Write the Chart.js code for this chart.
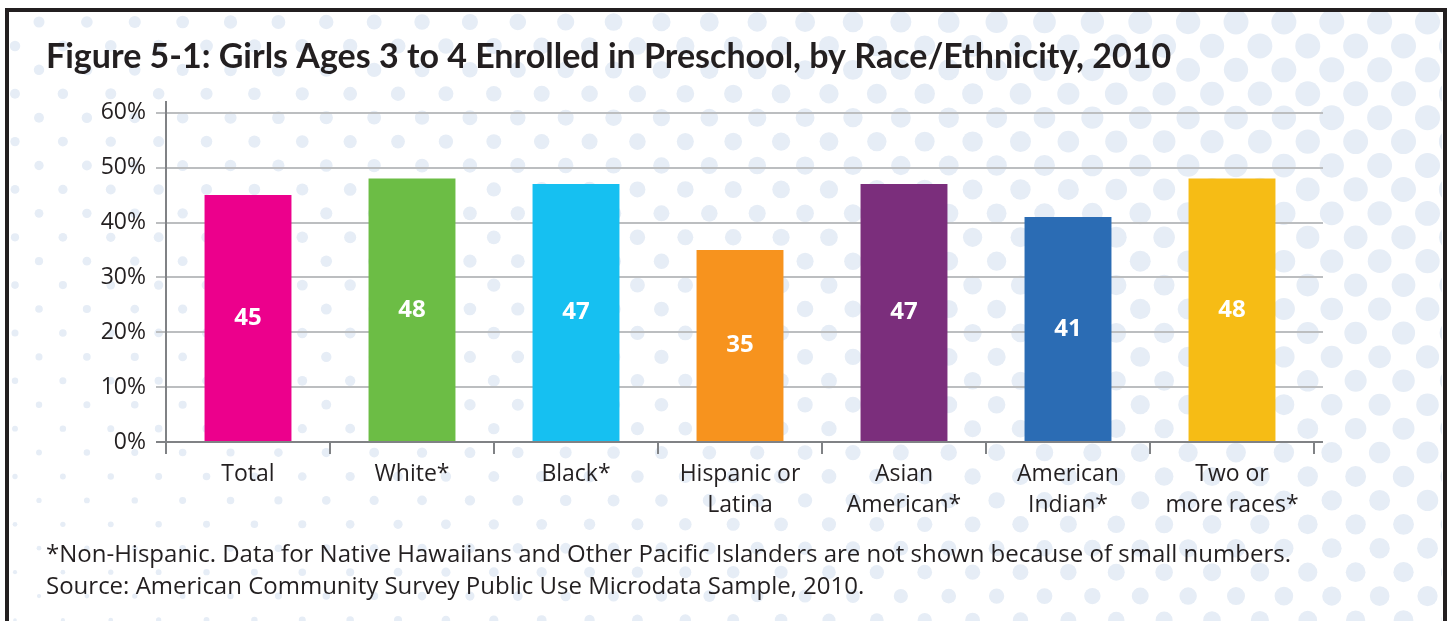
<!DOCTYPE html>
<html>
<head>
<meta charset="utf-8">
<title>Figure 5-1</title>
<script src="https://cdn.jsdelivr.net/npm/chart.js@4.4.0/dist/chart.umd.min.js"></script>
<style>
  html, body { margin: 0; padding: 0; background: #fff; overflow: hidden; }
  #wrap { position: relative; width: 1452px; height: 621px; }
  #frame {
    position: absolute; left: 5px; top: 8px; width: 1442px; height: 700px;
    box-sizing: border-box; border: 4.5px solid #231f20; pointer-events: none;
  }
</style>
</head>
<body>
<div id="wrap">
  <canvas id="grafico" width="1452" height="621"></canvas>
  <div id="frame"></div>
</div>
<script>
// data
var categorias = [
    'Total',
    'White*',
    'Black*',
    ['Hispanic or', 'Latina'],
    ['Asian', 'American*'],
    ['American', 'Indian*'],
    ['Two or', 'more races*']
];
var matriculadas = [45, 48, 47, 35, 47, 41, 48];
var yTicks = [0, 10, 20, 30, 40, 50, 60];

var titulo = 'Figure 5-1: Girls Ages 3 to 4 Enrolled in Preschool, by Race/Ethnicity, 2010';
var notas = [
    '*Non-Hispanic. Data for Native Hawaiians and Other Pacific Islanders are not shown because of small numbers.',
    'Source: American Community Survey Public Use Microdata Sample, 2010.'
];

var cores = ['#ec008c', '#6cbd45', '#16c0f1', '#f7931e', '#7b2e7c', '#2b6cb4', '#f6bc15'];
var texto = '#231f20';
var cinzaGrade = '#bcbec0';
var cinzaEixo = '#808285';

// polka dot background, dots grow towards the top right
var fundoBolinhas = {
    id: 'fundoBolinhas',
    beforeDraw: function (chart) {
        var ctx = chart.ctx;
        ctx.save();
        ctx.fillStyle = '#fff';
        ctx.fillRect(0, 0, chart.width, chart.height);
        ctx.beginPath();
        ctx.rect(10, 12, 1432, chart.height);
        ctx.clip();
        ctx.fillStyle = '#e6edf6';
        for (var j = -1; j < 28; j++) {
            var y = 22 + j * 23.92;
            var x0 = (Math.abs(j) % 2 === 0) ? 39 : 15;
            for (var x = x0 - 47.88; x < 1470; x += 47.88) {
                var r = 5.3 + 0.0058 * x - 0.006 * (y - 22);
                r = Math.max(1.2, Math.min(12.5, r));
                ctx.beginPath();
                ctx.arc(x, y, r, 0, Math.PI * 2);
                ctx.fill();
            }
        }
        ctx.restore();
    }
};

// white numbers in the middle of each bar
var valoresBarras = {
    id: 'valoresBarras',
    afterDatasetsDraw: function (chart) {
        var ctx = chart.ctx;
        var meta = chart.getDatasetMeta(0);
        ctx.save();
        ctx.fillStyle = '#fff';
        ctx.font = 'bold 24px "Open Sans"';
        ctx.textAlign = 'center';
        ctx.textBaseline = 'middle';
        meta.data.forEach(function (bar, i) {
            ctx.fillText(String(matriculadas[i]), bar.x, (bar.y + bar.base) / 2);
        });
        ctx.restore();
    }
};

function corGrade(c) {
    return c.tick && c.tick.value === 0 ? cinzaEixo : cinzaGrade;
}

function soTicksDaLista(scale) {
    scale.ticks = yTicks.map(function (v) { return { value: v }; });
}

geraGrafico(document.getElementById('grafico'));

function geraGrafico(ctx) {
    new Chart(ctx, {
        type: 'bar',
        data: {
            labels: categorias,
            datasets: [{
                label: 'Enrolled in preschool (%)',
                data: matriculadas,
                backgroundColor: cores,
                borderWidth: 0,
                barPercentage: 0.53,
                categoryPercentage: 1
            }]
        },
        plugins: [fundoBolinhas, valoresBarras],
        options: {
            responsive: false,
            animation: false,
            devicePixelRatio: 1,
            layout: { padding: { left: 46, right: 129, top: 0, bottom: 0 } },
            plugins: {
                legend: { display: false },
                tooltip: { enabled: false },
                title: {
                    display: true,
                    text: titulo,
                    align: 'start',
                    color: texto,
                    font: { family: 'Lato', size: 34, weight: 'bold', lineHeight: 1.2 },
                    padding: { top: 37, bottom: 24 }
                },
                subtitle: {
                    display: true,
                    position: 'bottom',
                    text: notas,
                    align: 'start',
                    color: texto,
                    font: { family: 'Open Sans', size: 24, weight: 'normal', lineHeight: 1.333 },
                    padding: { top: 19, bottom: 18 }
                }
            },
            scales: {
                x: {
                    afterFit: function (s) { s.height = 78; },
                    border: { display: false },
                    grid: {
                        offset: true,
                        drawOnChartArea: false,
                        drawTicks: true,
                        tickLength: 12,
                        color: cinzaEixo,
                        lineWidth: 2
                    },
                    ticks: {
                        color: texto,
                        padding: 5,
                        maxRotation: 0,
                        autoSkip: false,
                        font: { family: 'Open Sans', size: 23, lineHeight: 1.348 }
                    }
                },
                y: {
                    min: 0,
                    max: 62,
                    afterBuildTicks: soTicksDaLista,
                    afterFit: function (s) { s.width = 120; },
                    border: { display: true, color: cinzaEixo, width: 2 },
                    grid: { color: corGrade, lineWidth: 2, tickLength: 10 },
                    ticks: {
                        color: texto,
                        padding: 10,
                        font: { family: 'Open Sans', size: 23 },
                        callback: function (v) { return v + '%'; }
                    }
                },
                y2: {
                    position: 'right',
                    min: 0,
                    max: 62,
                    afterBuildTicks: soTicksDaLista,
                    border: { display: false },
                    grid: { drawOnChartArea: false, color: corGrade, lineWidth: 2, tickLength: 9 },
                    ticks: { display: false }
                }
            }
        }
    });
}
</script>
</body>
</html>
